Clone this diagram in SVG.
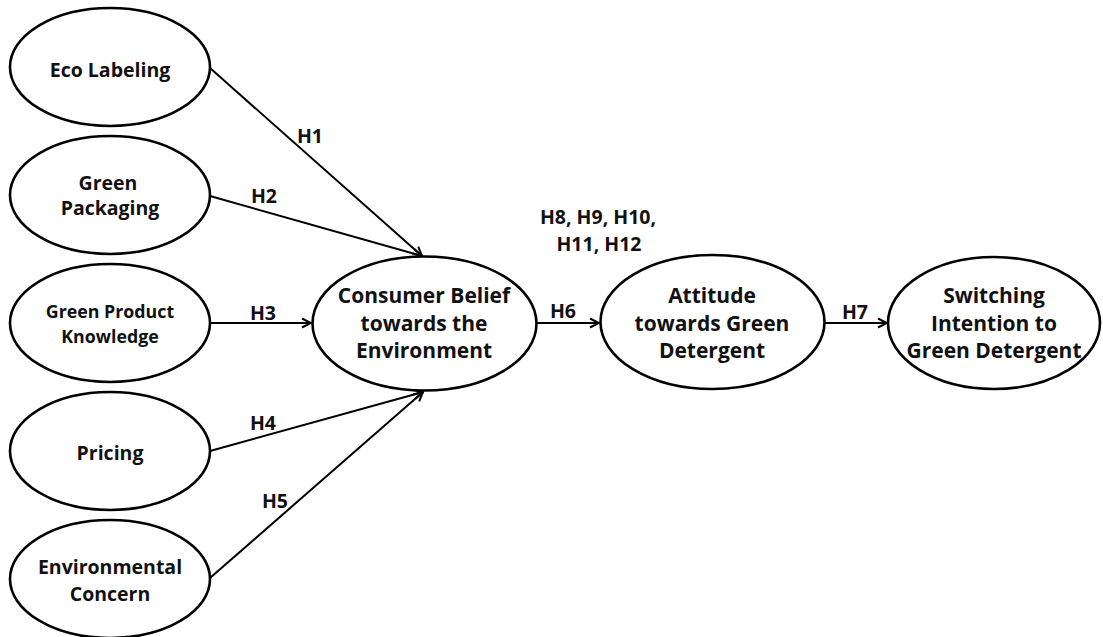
<svg xmlns="http://www.w3.org/2000/svg" width="1103" height="637" viewBox="0 0 1103 637">
<defs>
<style>
.n{fill:#fff;stroke:#000;stroke-width:2.6}
.t{font-family:"Open Sans","Liberation Sans",sans-serif;font-weight:bold;fill:#111;text-anchor:middle}
.l{font-size:19.5px}
.r{font-size:21px}
.s{font-size:17.8px}
.h{font-family:"Open Sans","Liberation Sans",sans-serif;font-weight:bold;fill:#111;font-size:19.5px;text-anchor:middle}
.c{fill:none;stroke:#000;stroke-width:2}
</style>
<marker id="a" viewBox="0 0 12 12" refX="11" refY="6" markerWidth="12" markerHeight="12" markerUnits="userSpaceOnUse" orient="auto">
<path d="M2,1.5 L11,6 L2,10.5" fill="none" stroke="#000" stroke-width="2"/>
</marker>
</defs>
<rect width="1103" height="637" fill="#fff"/>
<g id="connectors">
<line class="c" x1="210" y1="68" x2="422" y2="256" marker-end="url(#a)"/>
<line class="c" x1="210" y1="196" x2="422" y2="256" marker-end="url(#a)"/>
<line class="c" x1="210" y1="323" x2="311" y2="323" marker-end="url(#a)"/>
<line class="c" x1="210" y1="451" x2="423" y2="392" marker-end="url(#a)"/>
<line class="c" x1="210" y1="578" x2="423" y2="392" marker-end="url(#a)"/>
<line class="c" x1="537" y1="323" x2="599" y2="323" marker-end="url(#a)"/>
<line class="c" x1="825" y1="323" x2="887" y2="323" marker-end="url(#a)"/>
<text class="h" x="310" y="143">H1</text>
<text class="h" x="264" y="203">H2</text>
<text class="h" x="263" y="320">H3</text>
<text class="h" x="263" y="430">H4</text>
<text class="h" x="275" y="508">H5</text>
<text class="h" x="563" y="318">H6</text>
<text class="h" x="855" y="319">H7</text>
<text class="h" x="598" y="224">H8, H9, H10,</text>
<text class="h" x="599" y="251">H11, H12</text>
</g>
<g id="eco">
<ellipse class="n" cx="110" cy="67" rx="100" ry="59"/>
<text class="t l" x="110" y="77">Eco Labeling</text>
</g>
<g id="packaging">
<ellipse class="n" cx="110" cy="195" rx="100" ry="59"/>
<text class="t l" x="108" y="190">Green</text>
<text class="t l" x="110" y="215">Packaging</text>
</g>
<g id="knowledge">
<ellipse class="n" cx="110" cy="323" rx="100" ry="59"/>
<text class="t s" x="110" y="318">Green Product</text>
<text class="t s" x="110" y="343">Knowledge</text>
</g>
<g id="pricing">
<ellipse class="n" cx="110" cy="451" rx="100" ry="59"/>
<text class="t l" x="110" y="460">Pricing</text>
</g>
<g id="concern">
<ellipse class="n" cx="110" cy="579" rx="100" ry="59"/>
<text class="t l" x="110" y="574">Environmental</text>
<text class="t l" x="110" y="601">Concern</text>
</g>
<g id="belief">
<ellipse class="n" cx="424.5" cy="323.5" rx="112" ry="67"/>
<text class="t r" x="424" y="303">Consumer Belief</text>
<text class="t r" x="424" y="331">towards the</text>
<text class="t r" x="424" y="358">Environment</text>
</g>
<g id="attitude">
<ellipse class="n" cx="712.5" cy="322" rx="112" ry="67"/>
<text class="t r" x="712" y="303">Attitude</text>
<text class="t r" x="712" y="331">towards Green</text>
<text class="t r" x="712" y="358">Detergent</text>
</g>
<g id="switching">
<ellipse class="n" cx="994" cy="323" rx="106" ry="66"/>
<text class="t r" x="994" y="303">Switching</text>
<text class="t r" x="994" y="331">Intention to</text>
<text class="t r" x="994" y="358">Green Detergent</text>
</g>
</svg>
